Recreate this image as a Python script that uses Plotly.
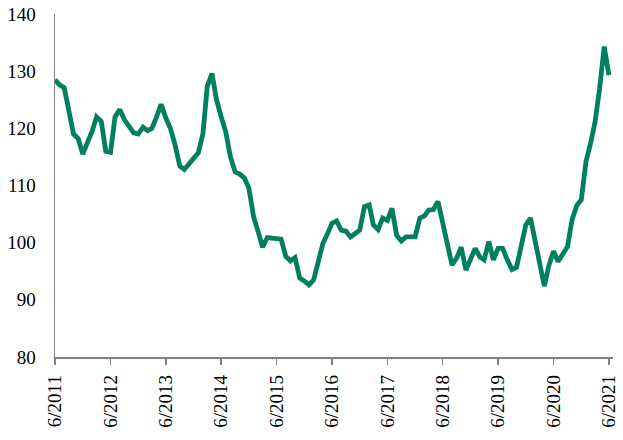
import pandas as pd
import plotly.graph_objects as go

months = pd.date_range("2011-06-01", periods=121, freq="MS")

values = [
    128.5, 127.6, 127.1, 122.5, 119.0, 118.2, 115.5, 117.5, 119.5, 122.0,
    121.2, 116.0, 115.8, 122.0, 123.3, 121.5, 120.3, 119.2, 119.0, 120.2,
    119.6, 120.0, 122.0, 124.2, 121.8, 120.0, 117.1, 113.4, 112.8, 113.8,
    115.0, 115.7, 119.1, 127.3, 129.6, 125.0, 122.0, 119.4, 115.0, 112.4,
    112.0, 111.3, 109.5, 104.5, 101.8, 99.2, 100.9, 100.8, 100.8, 100.6,
    97.6, 96.8, 97.4, 93.8, 93.3, 92.6, 93.5, 96.5, 99.8, 101.5,
    103.4, 103.8, 102.2, 102.0, 101.0, 101.6, 102.2, 106.3, 106.6, 103.1,
    102.3, 104.3, 103.9, 106.0, 101.3, 100.3, 101.0, 101.0, 101.0, 104.3,
    104.7, 105.7, 105.8, 107.2, 103.4, 100.2, 96.1, 97.3, 99.2, 95.2,
    97.3, 99.0, 97.5, 97.0, 100.2, 97.0, 99.0, 99.0, 97.0, 95.3,
    95.7, 99.5, 103.1, 104.3, 100.0, 96.0, 92.4, 96.0, 98.5, 96.7,
    98.0, 99.3, 104.0, 106.5, 107.5, 114.2, 117.5, 121.0, 127.0, 134.3,
    129.3,
]

tick_dates = pd.date_range("2011-06-01", "2021-06-01", freq="12MS")
tick_labels = [f"6/{d.year}" for d in tick_dates]
y_ticks = [80, 90, 100, 110, 120, 130, 140]

fig = go.Figure()
fig.add_trace(go.Scatter(
    x=months, y=values, mode="lines",
    line=dict(color="#00805F", width=4.8),
    hoverinfo="skip", showlegend=False,
))

font = dict(family="Liberation Serif", size=19, color="#000000")

fig.update_layout(
    width=623, height=440,
    margin=dict(l=55, r=10, t=14, b=83, autoexpand=False),
    paper_bgcolor="white", plot_bgcolor="white",
    font=font,
    xaxis=dict(
        range=[pd.Timestamp("2011-06-01"), pd.Timestamp("2021-06-28")],
        tickvals=tick_dates, ticktext=tick_labels, tickangle=-90,
        showgrid=False, zeroline=False, automargin=False,
        showline=True, linecolor="#808080", linewidth=1.5,
        ticks="outside", ticklen=6, tickcolor="#808080", tickwidth=1.5,
        ticklabelstandoff=3, ticklabeloverflow="allow",
        tickfont=font,
    ),
    yaxis=dict(
        range=[80, 140], tickvals=y_ticks,
        showgrid=False, zeroline=False, automargin=False,
        showline=True, linecolor="#808080", linewidth=1.5,
        ticks="", ticklabelstandoff=14, ticklabeloverflow="allow",
        tickfont=font,
    ),
)

fig.write_html(
    "out.html",
    config={"displayModeBar": False, "staticPlot": True},
    post_script="document.body.style.margin='0';document.body.style.overflow='hidden';",
)
